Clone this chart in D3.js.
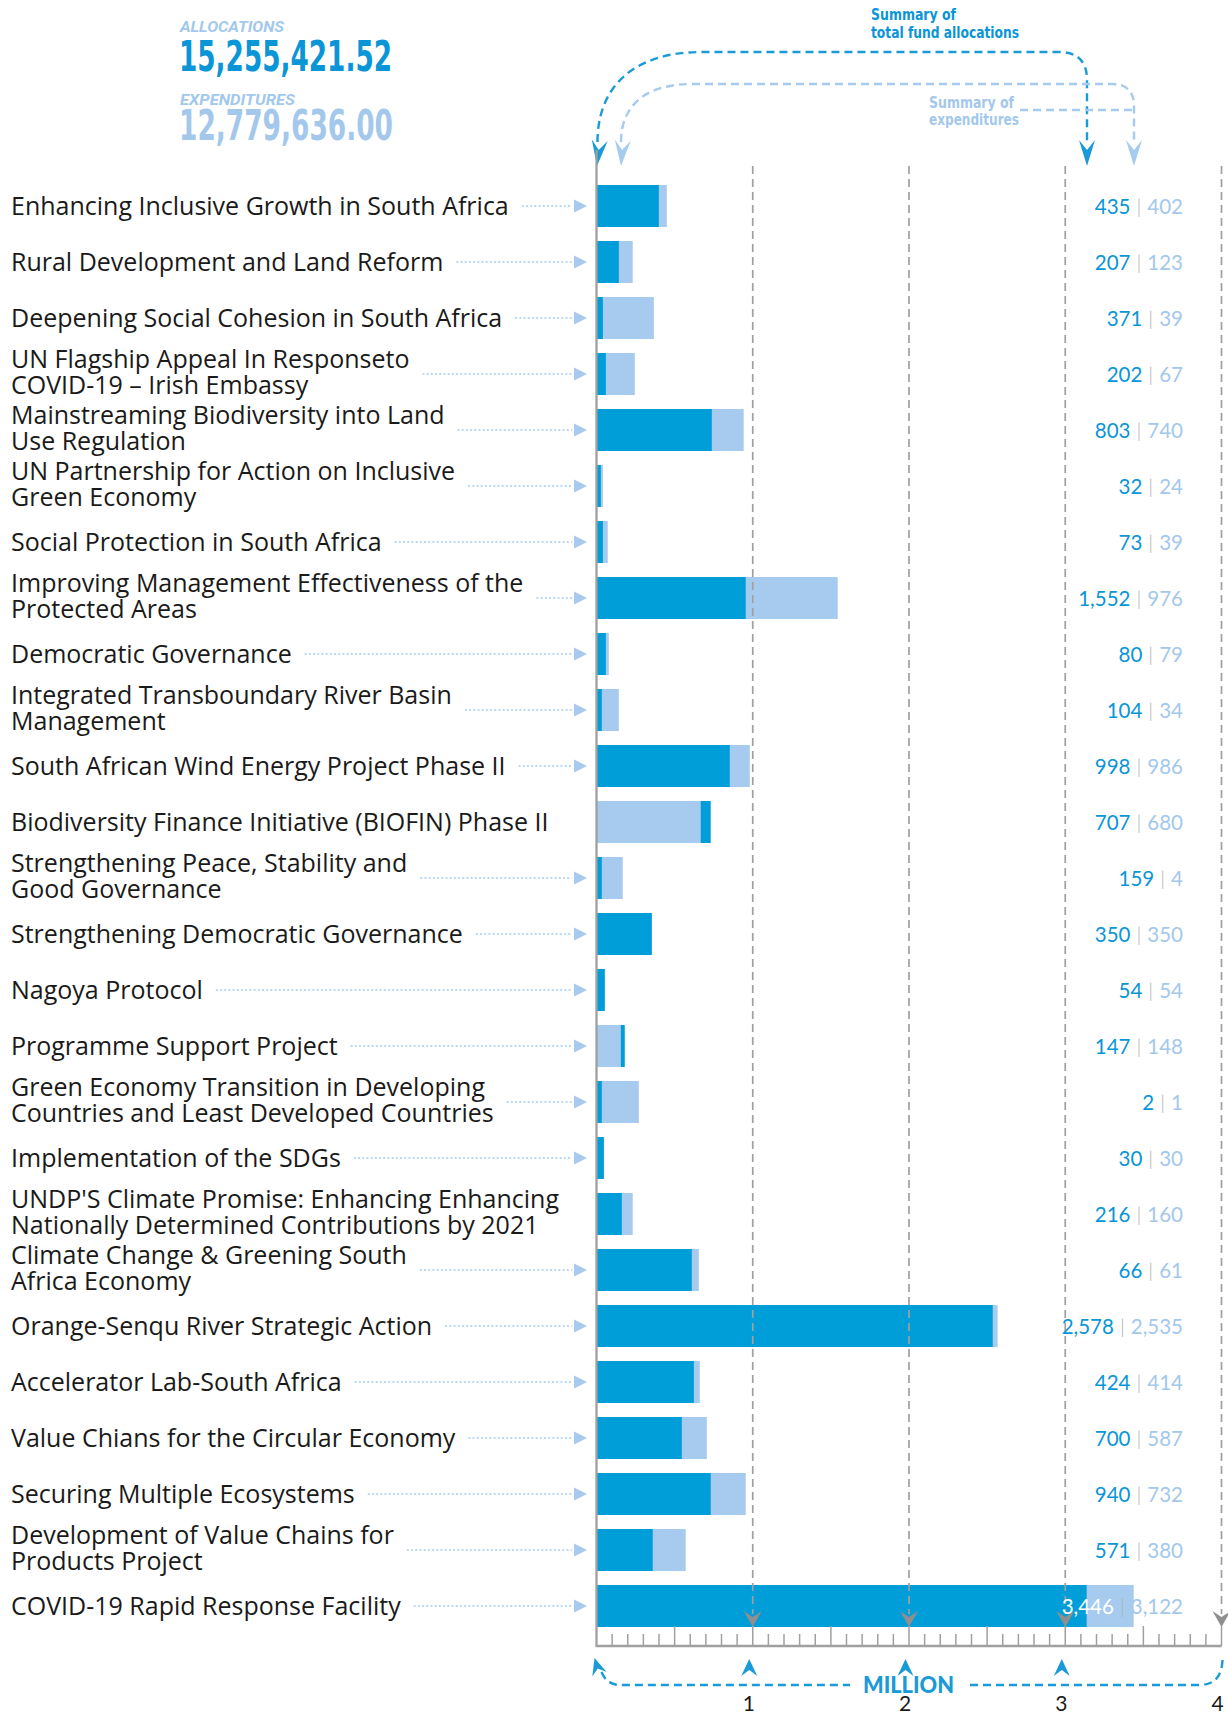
<!DOCTYPE html>
<html><head><meta charset="utf-8">
<script src="https://cdn.jsdelivr.net/npm/d3@7"></script>
<style>
html,body{margin:0;padding:0;background:#fff;}
svg{display:block;}
</style></head><body>
<svg id="chart" width="1228" height="1713"></svg>
<script>
// ---------- DATA ----------
const categories = [
  "Enhancing Inclusive Growth in South Africa",
  "Rural Development and Land Reform",
  "Deepening Social Cohesion in South Africa",
  "UN Flagship Appeal In Responseto\nCOVID-19 \u2013 Irish Embassy",
  "Mainstreaming Biodiversity into Land\nUse Regulation",
  "UN Partnership for Action on Inclusive\nGreen Economy",
  "Social Protection in South Africa",
  "Improving Management Effectiveness of the\nProtected Areas",
  "Democratic Governance",
  "Integrated Transboundary River Basin\nManagement",
  "South African Wind Energy Project Phase II",
  "Biodiversity Finance Initiative (BIOFIN) Phase II",
  "Strengthening Peace, Stability and\nGood Governance",
  "Strengthening Democratic Governance",
  "Nagoya Protocol",
  "Programme Support Project",
  "Green Economy Transition in Developing\nCountries and Least Developed Countries",
  "Implementation of the SDGs",
  "UNDP'S Climate Promise: Enhancing Enhancing\nNationally Determined Contributions by 2021",
  "Climate Change & Greening South\nAfrica Economy",
  "Orange-Senqu River Strategic Action",
  "Accelerator Lab-South Africa",
  "Value Chians for the Circular Economy",
  "Securing Multiple Ecosystems",
  "Development of Value Chains for\nProducts Project",
  "COVID-19 Rapid Response Facility"
];
// value labels (thousands, as printed)
const allocationLabels = ["435","207","371","202","803","32","73","1,552","80","104","998","707","159","350","54","147","2","30","216","66","2,578","424","700","940","571","3,446"];
const expenditureLabels = ["402","123","39","67","740","24","39","976","79","34","986","680","4","350","54","148","1","30","160","61","2,535","414","587","732","380","3,122"];
// drawn bar lengths (thousands)
const barInner = [399,143,41,60,738,28,41,955,60,34,853,667,34,354,53,156,34,47,162,610,2536,623,546,731,360,3137];
const barOuter = [450,232,367,245,942,41,72,1544,79,143,981,731,168,354,53,181,271,47,232,655,2567,661,706,955,571,3438];
// rows where the light segment comes first and the dark one is stacked after it
const lightFirst = ["Biodiversity Finance Initiative (BIOFIN) Phase II", "Programme Support Project"];
const axisTicks = [1000, 2000, 3000, 4000];
const axisTickLabels = ["1", "2", "3", "4"];
const totalAllocations = "15,255,421.52";
const totalExpenditures = "12,779,636.00";

// ---------- STYLE ----------
const DARK = "#009ed9", LIGHT = "#a6cbee", GRID = "#a0a0a0";
const NUM_DARK = "#0a95d7", NUM_LIGHT = "#a3c8ec";
const LABEL_FONT = "'Open Sans', Lato, sans-serif";
const VALUE_FONT = "Lato, 'Open Sans', sans-serif";
const COND_FONT = "'Liberation Sans Narrow', 'DejaVu Sans Condensed', 'Roboto', sans-serif";

const svg = d3.select("#chart");
const x = d3.scaleLinear().domain([0, 4000]).range([596.5, 1221.5]);
const y = d3.scaleBand().domain(d3.range(categories.length)).range([178, 1634]).paddingInner(0.25).paddingOuter(0.125);
const cy = i => y(i) + y.bandwidth() / 2;

function arrow(g, tx, ty, angle, w, len, notch, color) {
  g.append("path")
    .attr("d", `M0,0 L${-w/2},${-len} L0,${-(len - notch)} L${w/2},${-len} Z`)
    .attr("transform", `translate(${tx},${ty}) rotate(${angle})`)
    .attr("fill", color);
}

// ---------- HEADER ----------
const hdr = svg.append("g");
hdr.append("text").attr("x", 180).attr("y", 31.5).text("ALLOCATIONS")
  .attr("font-family", "Roboto, sans-serif").attr("font-weight", 700).attr("font-style", "italic")
  .attr("font-size", 15).attr("fill", NUM_LIGHT).attr("textLength", 104).attr("lengthAdjust", "spacingAndGlyphs");
hdr.append("text").attr("x", 179).attr("y", 70.7).text(totalAllocations)
  .attr("font-family", COND_FONT).attr("font-weight", 700).attr("font-stretch", "condensed")
  .attr("font-size", 42).attr("fill", NUM_DARK).attr("textLength", 213).attr("lengthAdjust", "spacingAndGlyphs");
hdr.append("text").attr("x", 180).attr("y", 104.5).text("EXPENDITURES")
  .attr("font-family", "Roboto, sans-serif").attr("font-weight", 700).attr("font-style", "italic")
  .attr("font-size", 15).attr("fill", NUM_LIGHT).attr("textLength", 115).attr("lengthAdjust", "spacingAndGlyphs");
hdr.append("text").attr("x", 179).attr("y", 139.5).text(totalExpenditures)
  .attr("font-family", COND_FONT).attr("font-weight", 700).attr("font-stretch", "condensed")
  .attr("font-size", 42).attr("fill", NUM_LIGHT).attr("textLength", 214).attr("lengthAdjust", "spacingAndGlyphs");

// summary annotations
const ann = svg.append("g");
[["Summary of", 19.5, 85], ["total fund allocations", 37.5, 148]].forEach(([t, yy, w]) => {
  ann.append("text").attr("x", 871).attr("y", yy).text(t)
    .attr("font-family", COND_FONT).attr("font-weight", 700).attr("font-stretch", "condensed")
    .attr("font-size", 16).attr("fill", NUM_DARK).attr("textLength", w).attr("lengthAdjust", "spacingAndGlyphs");
});
[["Summary of", 107.5, 85], ["expenditures", 125, 90]].forEach(([t, yy, w]) => {
  ann.append("text").attr("x", 929).attr("y", yy).text(t)
    .attr("font-family", COND_FONT).attr("font-weight", 700).attr("font-stretch", "condensed")
    .attr("font-size", 16).attr("fill", NUM_LIGHT).attr("textLength", w).attr("lengthAdjust", "spacingAndGlyphs");
});
const xAllocArrow = 1087, xExpArrow = 1134;
ann.append("path")
  .attr("d", `M${x(0)+1},142 C${x(0)+1},88 632,52 702,52 L${xAllocArrow-28},52 Q${xAllocArrow},52 ${xAllocArrow},80 L${xAllocArrow},144`)
  .attr("fill", "none").attr("stroke", "#1a9ad6").attr("stroke-width", 2.4).attr("stroke-dasharray", "8,5");
ann.append("path")
  .attr("d", `M621,142 C621,106 645,84 692,84 L${xExpArrow-22},84 Q${xExpArrow},84 ${xExpArrow},106 L${xExpArrow},144`)
  .attr("fill", "none").attr("stroke", LIGHT).attr("stroke-width", 2.4).attr("stroke-dasharray", "8,5");
ann.append("path").attr("d", `M1020,110 L${xExpArrow},110`)
  .attr("fill", "none").attr("stroke", LIGHT).attr("stroke-width", 2.4).attr("stroke-dasharray", "8,5");
arrow(ann, x(0) + 0.5, 166, 6, 16, 26, 10, "#1a9ad6");
arrow(ann, 621, 166, 4, 16, 26, 10, LIGHT);
arrow(ann, xAllocArrow, 166, 0, 16, 26, 10, "#1a9ad6");
arrow(ann, xExpArrow, 166, 0, 16, 26, 10, LIGHT);

// ---------- BARS ----------
const bars = svg.append("g");
categories.forEach((c, i) => {
  const lf = lightFirst.includes(c);
  bars.append("rect").attr("x", x(0)).attr("y", y(i))
    .attr("width", x(barOuter[i]) - x(0)).attr("height", y.bandwidth())
    .attr("fill", lf ? DARK : LIGHT);
  bars.append("rect").attr("x", x(0)).attr("y", y(i))
    .attr("width", x(barInner[i]) - x(0)).attr("height", y.bandwidth())
    .attr("fill", lf ? LIGHT : DARK);
});

// ---------- GRID ----------
const grid = svg.append("g");
axisTicks.forEach(v => {
  grid.append("line").attr("x1", x(v)).attr("x2", x(v)).attr("y1", 166).attr("y2", 1614)
    .attr("stroke", GRID).attr("stroke-width", 1.7).attr("stroke-dasharray", "8,5");
  arrow(grid, x(v), 1627, 0, 18, 16, 6, "#8f8f8f");
});
const ticks = d3.range(100, 4001, 100);
grid.selectAll("line.tick").data(ticks).join("line").attr("class", "tick")
  .attr("x1", d => x(d)).attr("x2", d => x(d))
  .attr("y1", d => (d % 500 === 0) ? 1626 : 1634).attr("y2", 1646)
  .attr("stroke", GRID).attr("stroke-width", 1.5);
grid.append("line").attr("x1", x(0)).attr("x2", x(0)).attr("y1", 150).attr("y2", 1647)
  .attr("stroke", GRID).attr("stroke-width", 2.3);
grid.append("line").attr("x1", x(0)).attr("x2", x(4000)).attr("y1", 1646).attr("y2", 1646)
  .attr("stroke", GRID).attr("stroke-width", 2.3);

// ---------- LABELS ----------
const lab = svg.append("g");
// fit label font so the first label spans its measured width in the reference
const probe = lab.append("text").attr("font-family", LABEL_FONT).attr("font-size", 23.5).text(categories[0]);
const probeW = probe.node().getComputedTextLength();
probe.remove();
const labelSize = Math.max(20, Math.min(27, 23.5 * 498 / probeW));

categories.forEach((c, i) => {
  const lines = c.split("\n");
  const c0 = cy(i);
  let maxEnd = 0;
  lines.forEach((ln, k) => {
    const yy = lines.length === 1 ? c0 + 8.5 : (k === 0 ? c0 - 6 : c0 + 19.5);
    const t = lab.append("text").attr("x", 11).attr("y", yy).text(ln)
      .attr("font-family", LABEL_FONT).attr("font-size", labelSize).attr("fill", "#1a1a1a");
    maxEnd = Math.max(maxEnd, 11 + t.node().getComputedTextLength());
  });
  if (maxEnd + 13 < 560) {
    lab.append("line").attr("x1", maxEnd + 13).attr("x2", 572).attr("y1", c0).attr("y2", c0)
      .attr("stroke", LIGHT).attr("stroke-width", 1.4).attr("stroke-dasharray", "2,2.2");
    lab.append("path").attr("d", `M587,${c0} L574,${c0-6.5} L574,${c0+6.5} Z`).attr("fill", LIGHT);
  }
  const vt = lab.append("text").attr("x", 1183).attr("y", c0 + 8).attr("text-anchor", "end")
    .attr("font-family", VALUE_FONT).attr("font-size", 20.5);
  const a = vt.append("tspan").text(allocationLabels[i]).attr("fill", NUM_DARK);
  vt.append("tspan").attr("dx", 6).text("|").attr("fill", "#b0b0b0").attr("font-weight", 300);
  vt.append("tspan").attr("dx", 6).text(expenditureLabels[i]).attr("fill", NUM_LIGHT);
  const bb = vt.node().getBBox();
  if (bb.x < x(Math.max(barInner[i], barOuter[i]))) a.attr("fill", "#ffffff");
});

// ---------- BOTTOM AXIS ANNOTATION ----------
const bot = svg.append("g");
axisTicks.forEach((v, k) => {
  bot.append("text").attr("x", x(v) - 4).attr("y", 1711).attr("text-anchor", "middle")
    .text(axisTickLabels[k]).attr("font-family", VALUE_FONT).attr("font-size", 21).attr("fill", "#1a1a1a");
  if (v < 4000) arrow(bot, x(v) - 3.5, 1659, 180, 16, 17, 6, "#1a9ad6");
});
arrow(bot, x(0) - 2, 1658, 163, 15, 17, 6, "#1a9ad6");
bot.append("path").attr("d", `M${x(0)+5},1672 Q${x(0)+10},1685 ${x(0)+24},1685 L850,1685`)
  .attr("fill", "none").attr("stroke", "#1a9ad6").attr("stroke-width", 2.4).attr("stroke-dasharray", "8,5");
bot.append("path").attr("d", `M970,1685 L${x(4000)-22},1685 Q${x(4000)},1685 ${x(4000)+1},1660`)
  .attr("fill", "none").attr("stroke", "#1a9ad6").attr("stroke-width", 2.4).attr("stroke-dasharray", "8,5");
bot.append("text").attr("x", x(2000) - 0.5).attr("y", 1693).attr("text-anchor", "middle").text("MILLION")
  .attr("font-family", VALUE_FONT).attr("font-weight", 900).attr("font-size", 22).attr("fill", "#1a9ad6")
  .attr("textLength", 91).attr("lengthAdjust", "spacingAndGlyphs");
</script>
</body></html>
